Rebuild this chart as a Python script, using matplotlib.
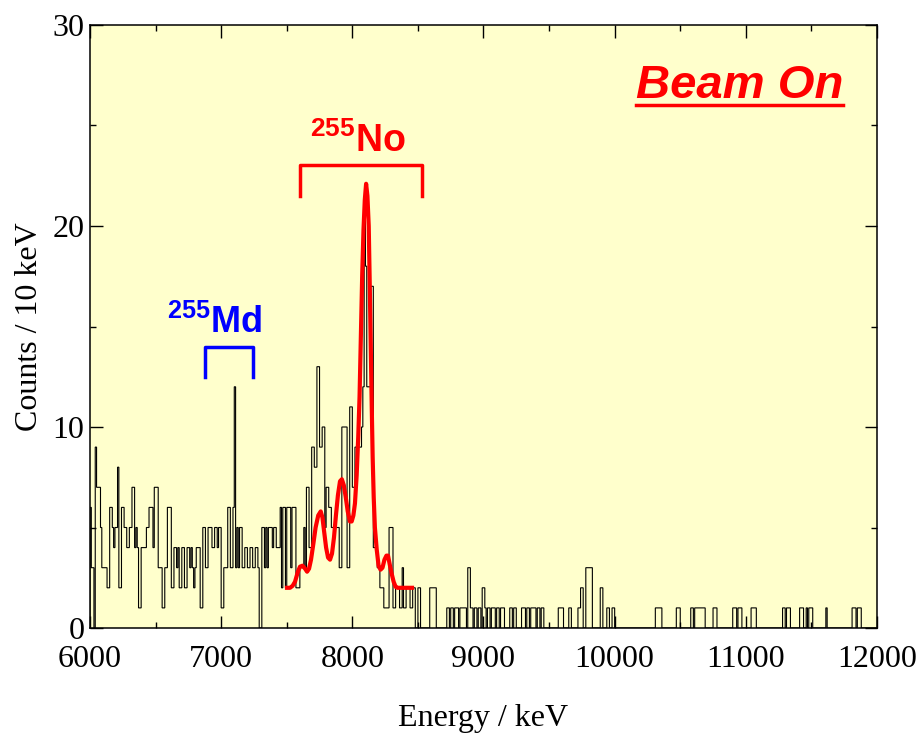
import numpy as np
import matplotlib.pyplot as plt

# counts per 10 keV bin
counts_6000_6790 = [6, 3, 3, 0, 9, 7, 7, 7, 5, 3, 3, 3, 3, 2, 2, 6, 6, 5, 4, 5,
                    5, 8, 2, 2, 6, 6, 5, 5, 4, 4, 5, 5, 7, 7, 4, 5, 4, 1, 1, 4,
                    4, 4, 4, 5, 5, 6, 6, 6, 4, 7, 7, 7, 3, 3, 3, 1, 1, 3, 3, 6,
                    6, 6, 2, 2, 4, 4, 3, 4, 2, 2, 4, 4, 2, 2, 4, 4, 3, 4, 3, 2]
counts_6800_7490 = [3, 4, 4, 4, 1, 1, 5, 5, 3, 3, 5, 5, 5, 4, 4, 5, 5, 4, 5, 5,
                    1, 1, 3, 3, 3, 6, 6, 3, 3, 6, 12, 3, 5, 3, 5, 5, 3, 3, 4, 4,
                    3, 3, 4, 4, 3, 3, 4, 4, 3, 0, 0, 5, 5, 3, 5, 3, 5, 5, 5, 4,
                    5, 5, 4, 4, 4, 6, 2, 6, 6, 2]
counts_7500_8490 = [6, 6, 6, 3, 6, 6, 6, 2, 2, 2, 3, 3, 3, 5, 3, 7, 7, 4, 4, 9,
                    9, 8, 8, 13, 13, 9, 9, 10, 10, 5, 7, 7, 6, 6, 5, 5, 5, 5, 5, 5,
                    3, 3, 10, 10, 10, 10, 3, 3, 11, 11, 7, 7, 9, 9, 9, 9, 9, 10, 12, 21,
                    18, 12, 12, 12, 17, 17, 4, 4, 4, 3, 3, 2, 2, 2, 1, 1, 1, 1, 5, 5,
                    5, 1, 1, 2, 2, 2, 1, 1, 3, 1, 1, 2, 2, 2, 1, 1, 2, 2, 0, 0]

# sparse tail above 8500 keV: lower bin edges holding 1, 2 or 3 counts
tail_keV_1 = [8720, 8730, 8750, 8760, 8780, 8790, 8800, 8820, 8830, 8840, 8850,
              8860, 8900, 8910, 8930, 8940, 8960, 8970, 9010, 9030, 9040, 9060,
              9070, 9080, 9100, 9110, 9130, 9140, 9150, 9200, 9210, 9230, 9240,
              9290, 9300, 9310, 9330, 9340, 9360, 9370, 9380, 9390, 9410, 9420,
              9440, 9450, 9570, 9580, 9590, 9600, 9650, 9660, 9720, 9730, 9940,
              9950, 9980, 9990, 10310, 10320, 10330, 10340, 10350, 10470, 10480,
              10490, 10580, 10590, 10610, 10620, 10630, 10640, 10650, 10660,
              10670, 10680, 10750, 10760, 10770, 10900, 10910, 10920, 10940,
              10950, 10960, 11040, 11050, 11060, 11070, 11280, 11290, 11310,
              11320, 11330, 11410, 11420, 11430, 11460, 11480, 11490, 11500,
              11610, 11810, 11820, 11830, 11850, 11860, 11870]
tail_keV_2 = [8500, 8510, 8590, 8600, 8610, 8620, 8630, 8990, 9000, 9740, 9750,
              9890, 9900]
tail_keV_3 = [8880, 8890, 9780, 9790, 9800, 9810, 9820]

# fitted 255No curve (red)
fit_keV = [7502, 7525, 7545, 7563, 7585, 7601, 7620, 7640, 7655, 7670, 7685,
           7703, 7720, 7740, 7759, 7772, 7785, 7800, 7815, 7830, 7845, 7860,
           7875, 7890, 7906, 7920, 7935, 7950, 7965, 7982, 7995, 8008, 8020,
           8033, 8045, 8055, 8065, 8075, 8085, 8095, 8105, 8115, 8125, 8133,
           8140, 8148, 8155, 8163, 8172, 8186, 8200, 8215, 8230, 8245, 8260,
           8272, 8287, 8300, 8315, 8330, 8345, 8400, 8455]
fit_counts = [2.0, 2.0, 2.1, 2.3, 2.8, 3.05, 3.1, 2.95, 2.8, 2.95, 3.4,
              4.2, 5.0, 5.6, 5.8, 5.5, 4.8, 4.0, 3.5, 3.4, 3.7, 4.5,
              5.6, 6.6, 7.3, 7.4, 7.1, 6.5, 5.8, 5.3, 5.3, 5.6, 6.2,
              7.6, 9.5, 11.5, 14.5, 17.5, 19.8, 21.3, 22.1, 21.5, 20.0, 17.0,
              14.2, 11.0, 8.5, 6.5, 5.0, 3.9, 3.1, 2.9, 3.0, 3.4, 3.6,
              3.6, 3.1, 2.7, 2.3, 2.05, 2.0, 2.0, 2.0]

# bracket spans (keV) for the labelled groups
no_span = (7600, 8530)
md_span = (6877, 7243)

edges = np.arange(6000, 12001, 10)
counts = np.zeros(len(edges) - 1)
dense = counts_6000_6790 + counts_6800_7490 + counts_7500_8490
counts[:len(dense)] = dense
for val, lst in [(1, tail_keV_1), (2, tail_keV_2), (3, tail_keV_3)]:
    counts[(np.array(lst) - 6000) // 10] = val

plt.rcParams['mathtext.fontset'] = 'custom'
plt.rcParams['mathtext.rm'] = 'Liberation Sans:bold'
serif = 'Liberation Serif'
sans = 'Liberation Sans'

fig = plt.figure(figsize=(9.18, 7.34), dpi=100)
ax = fig.add_axes([90 / 918, 1 - 628 / 734, 787 / 918, 603 / 734])
ax.set_facecolor('#FFFFCC')

ax.stairs(counts, edges, color='black', lw=0.8, baseline=0)
ax.plot(fit_keV, fit_counts, color='#FF0000', lw=3, solid_joinstyle='round')

# 255No bracket and label
ax.plot([no_span[0], no_span[0], no_span[1], no_span[1]], [21.5, 23.05, 23.05, 21.5],
        color='#FF0000', lw=2.5)
ax.text(np.mean(no_span) - 25, 23.7, r'$^{255}$No', color='#FF0000', family=sans,
        fontweight='bold', fontsize=27, ha='center', va='baseline')
# 255Md bracket and label
ax.plot([md_span[0], md_span[0], md_span[1], md_span[1]], [12.5, 14.0, 14.0, 12.5],
        color='#0000FF', lw=2.5)
ax.text(np.mean(md_span) - 110, 14.7, r'$^{255}$Md', color='#0000FF', family=sans,
        fontweight='bold', fontsize=26, ha='center', va='baseline')

beam = ax.text(0.957, 0.879, 'Beam On', transform=ax.transAxes, color='#FF0000',
               family=sans, fontweight='bold', style='italic', fontsize=34,
               ha='right', va='baseline')

ax.set_xlim(6000, 12000)
ax.set_ylim(0, 30)
ax.set_xticks(np.arange(6000, 12001, 1000))
ax.set_xticks(np.arange(6500, 12000, 1000), minor=True)
ax.set_yticks([0, 10, 20, 30])
ax.set_yticks([5, 15, 25], minor=True)
ax.tick_params(which='both', direction='in', top=True, right=True, width=1,
               labelsize=23)
ax.tick_params(which='major', length=9)
ax.tick_params(which='minor', length=4.5)
ax.tick_params(axis='x', pad=12)
ax.tick_params(axis='y', pad=4)
for lab in ax.get_xticklabels() + ax.get_yticklabels():
    lab.set_family(serif)
for sp in ax.spines.values():
    sp.set_linewidth(1.1)

ax.set_xlabel('Energy / keV', family=serif, fontsize=23, labelpad=22)
ax.set_ylabel('Counts / 10 keV', family=serif, fontsize=23, labelpad=6)

# underline for "Beam On"
fig.canvas.draw()
bb = beam.get_window_extent().transformed(ax.transAxes.inverted())
ax.plot([bb.x0, bb.x1], [bb.y0 + 0.005, bb.y0 + 0.005], transform=ax.transAxes,
        color='#FF0000', lw=2.5, clip_on=False)

fig.savefig('out.png', dpi=100)
